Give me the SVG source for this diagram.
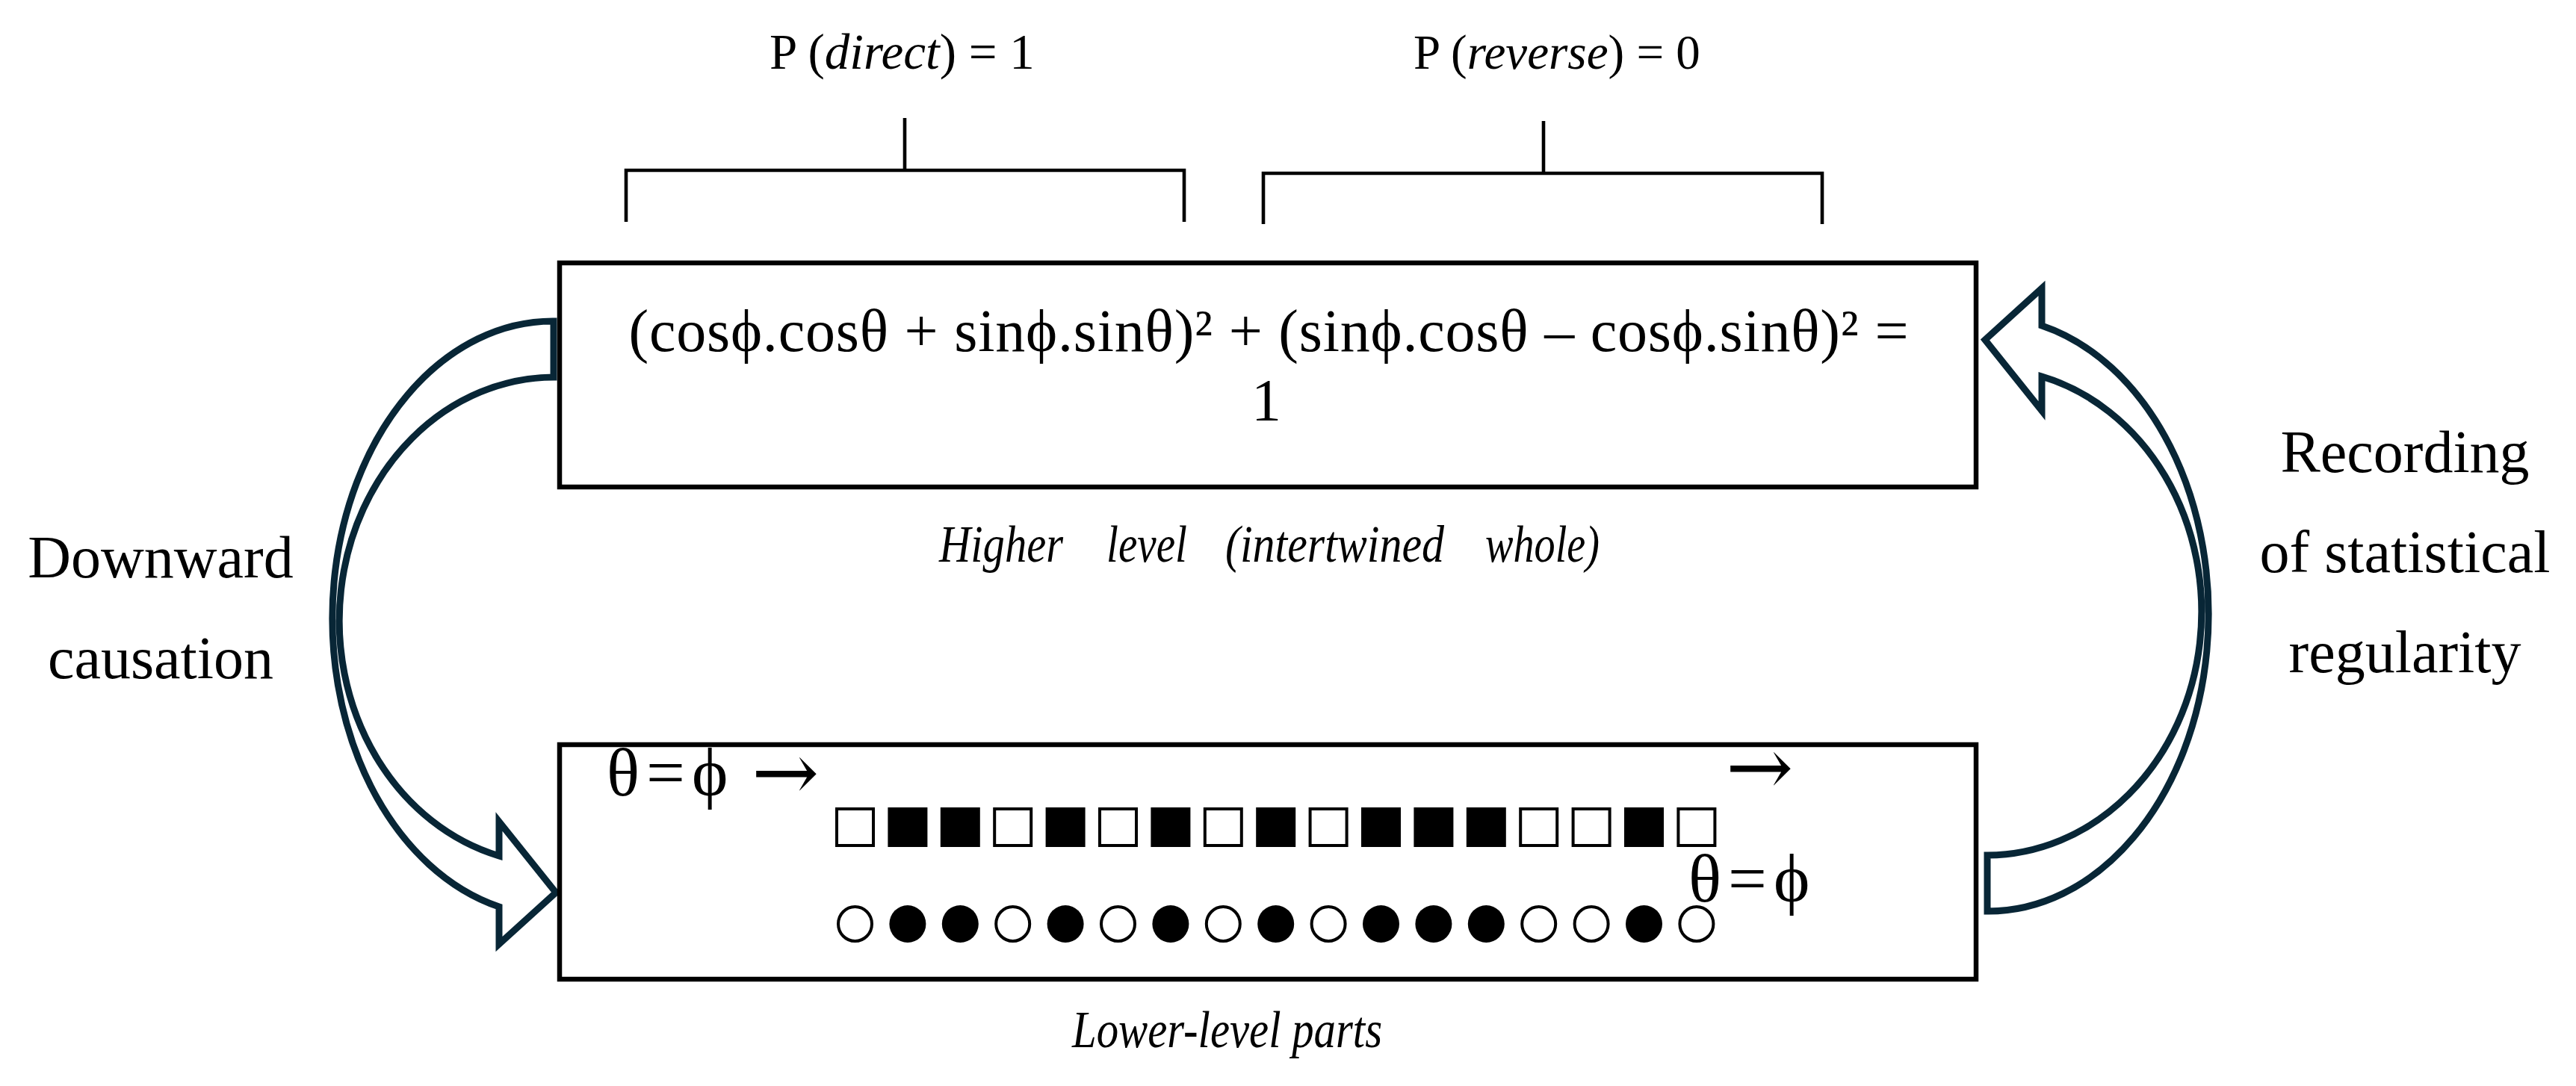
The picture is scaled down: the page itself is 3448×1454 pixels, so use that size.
<svg xmlns="http://www.w3.org/2000/svg" width="3448" height="1454" viewBox="0 0 3448 1454">
<style>
.t{font-family:"Liberation Serif","Times New Roman",serif;fill:#000}
.ar{font-family:"DejaVu Serif",serif;fill:#000}
.it{font-style:italic}
.te{letter-spacing:9px}
.box{fill:none;stroke:#000;stroke-width:6.5}
.br{fill:none;stroke:#000;stroke-width:4.6}
.arr{fill:none;stroke:#082636;stroke-width:9;stroke-linejoin:miter}
.sq{fill:#fff;stroke:#000;stroke-width:4}
.sqf{fill:#000}
.ci{fill:#fff;stroke:#000;stroke-width:4}
.cif{fill:#000}
</style>
<defs>
<path id="curvArrow" d="M741,430 A295,398 0 0 0 668,1214 L668,1264 L744,1195 L668,1100 L668,1146 A288,326 0 0 1 741,505 Z"/>
</defs>
<rect width="3448" height="1454" fill="#fff"/>

<g id="connectors">
  <g id="bracket-direct">
    <path class="br" d="M838,297 V228 H1585 V297 M1211,228 V158"/>
  </g>
  <g id="bracket-reverse">
    <path class="br" d="M1691,300 V232 H2439 V300 M2066,232 V162"/>
  </g>
  <g id="arrow-downward">
    <use href="#curvArrow" class="arr"/>
  </g>
  <g id="arrow-recording">
    <use href="#curvArrow" class="arr" transform="rotate(180 1700.5 825)"/>
  </g>
</g>

<g id="label-direct">
  <text class="t" x="1030" y="92" font-size="67">P (<tspan class="it">direct</tspan>) = 1</text>
</g>
<g id="label-reverse">
  <text class="t" x="1892" y="92" font-size="65">P (<tspan class="it">reverse</tspan>) = 0</text>
</g>

<g id="higher-level">
  <rect class="box" x="749" y="352" width="1896" height="300"/>
  <text class="t" x="1698" y="470" font-size="80" text-anchor="middle" textLength="1713" lengthAdjust="spacing">(cosϕ.cosθ + sinϕ.sinθ)² + (sinϕ.cosθ – cosϕ.sinθ)² =</text>
  <text class="t" x="1695" y="563" font-size="80" text-anchor="middle">1</text>
</g>
<g id="higher-caption">
  <text class="t it" x="1257" y="752" font-size="70" textLength="166" lengthAdjust="spacingAndGlyphs">Higher</text>
  <text class="t it" x="1481" y="752" font-size="70" textLength="108" lengthAdjust="spacingAndGlyphs">level</text>
  <text class="t it" x="1640" y="752" font-size="70" textLength="293" lengthAdjust="spacingAndGlyphs">(intertwined</text>
  <text class="t it" x="1988" y="752" font-size="70" textLength="153" lengthAdjust="spacingAndGlyphs">whole)</text>
</g>

<g id="lower-level">
  <rect class="box" x="749" y="997" width="1896" height="314"/>
  <text class="t te" x="812" y="1065" font-size="92">θ=ϕ</text>
  <text class="ar" x="1006" y="1071" font-size="108">→</text>
  <text class="ar" x="2310" y="1064" font-size="108">→</text>
  <text class="t te" x="2260" y="1207" font-size="92">θ=ϕ</text>
  <g id="squares">
    <rect class="sq" x="1120" y="1083" width="49" height="49"/>
    <rect class="sqf" x="1188.4" y="1081" width="53" height="53"/>
    <rect class="sqf" x="1258.8" y="1081" width="53" height="53"/>
    <rect class="sq" x="1331.2" y="1083" width="49" height="49"/>
    <rect class="sqf" x="1399.6" y="1081" width="53" height="53"/>
    <rect class="sq" x="1472" y="1083" width="49" height="49"/>
    <rect class="sqf" x="1540.4" y="1081" width="53" height="53"/>
    <rect class="sq" x="1612.8" y="1083" width="49" height="49"/>
    <rect class="sqf" x="1681.2" y="1081" width="53" height="53"/>
    <rect class="sq" x="1753.6" y="1083" width="49" height="49"/>
    <rect class="sqf" x="1822" y="1081" width="53" height="53"/>
    <rect class="sqf" x="1892.4" y="1081" width="53" height="53"/>
    <rect class="sqf" x="1962.8" y="1081" width="53" height="53"/>
    <rect class="sq" x="2035.2" y="1083" width="49" height="49"/>
    <rect class="sq" x="2105.6" y="1083" width="49" height="49"/>
    <rect class="sqf" x="2174" y="1081" width="53" height="53"/>
    <rect class="sq" x="2246.4" y="1083" width="49" height="49"/>
  </g>
  <g id="circles">
    <ellipse class="ci" cx="1144.5" cy="1237" rx="22.5" ry="23"/>
    <ellipse class="cif" cx="1214.9" cy="1237" rx="24.5" ry="25"/>
    <ellipse class="cif" cx="1285.3" cy="1237" rx="24.5" ry="25"/>
    <ellipse class="ci" cx="1355.7" cy="1237" rx="22.5" ry="23"/>
    <ellipse class="cif" cx="1426.1" cy="1237" rx="24.5" ry="25"/>
    <ellipse class="ci" cx="1496.5" cy="1237" rx="22.5" ry="23"/>
    <ellipse class="cif" cx="1566.9" cy="1237" rx="24.5" ry="25"/>
    <ellipse class="ci" cx="1637.3" cy="1237" rx="22.5" ry="23"/>
    <ellipse class="cif" cx="1707.7" cy="1237" rx="24.5" ry="25"/>
    <ellipse class="ci" cx="1778.1" cy="1237" rx="22.5" ry="23"/>
    <ellipse class="cif" cx="1848.5" cy="1237" rx="24.5" ry="25"/>
    <ellipse class="cif" cx="1918.9" cy="1237" rx="24.5" ry="25"/>
    <ellipse class="cif" cx="1989.3" cy="1237" rx="24.5" ry="25"/>
    <ellipse class="ci" cx="2059.7" cy="1237" rx="22.5" ry="23"/>
    <ellipse class="ci" cx="2130.1" cy="1237" rx="22.5" ry="23"/>
    <ellipse class="cif" cx="2200.5" cy="1237" rx="24.5" ry="25"/>
    <ellipse class="ci" cx="2270.9" cy="1237" rx="22.5" ry="23"/>
  </g>
</g>
<g id="lower-caption">
  <text class="t it" x="1435" y="1402" font-size="70" textLength="415" lengthAdjust="spacingAndGlyphs">Lower-level parts</text>
</g>

<g id="label-downward">
  <text class="t" x="215" y="773" font-size="80" text-anchor="middle">Downward</text>
  <text class="t" x="215" y="908" font-size="80" text-anchor="middle">causation</text>
</g>
<g id="label-recording">
  <text class="t" x="3219" y="632" font-size="80" text-anchor="middle">Recording</text>
  <text class="t" x="3219" y="766" font-size="80" text-anchor="middle">of statistical</text>
  <text class="t" x="3219" y="900" font-size="80" text-anchor="middle">regularity</text>
</g>
</svg>
